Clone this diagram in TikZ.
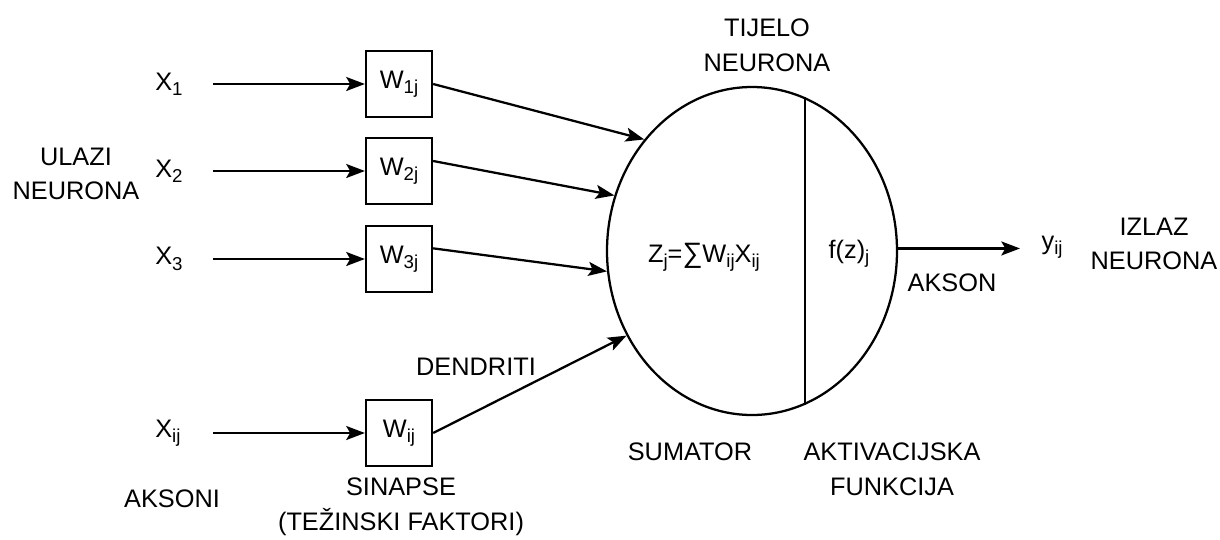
\documentclass[tikz,border=0pt]{standalone}
\usepackage{fontspec}
\setmainfont{Liberation Sans}
\usetikzlibrary{arrows.meta,shapes.geometric,positioning}
\newcommand{\donji}[1]{\raisebox{-4pt}{\fontsize{14}{14}\selectfont #1}}

\begin{document}
\begin{tikzpicture}[x=0.75pt,y=-0.75pt,
  every node/.style={font=\fontsize{19}{26}\selectfont},
  tezina/.style={draw,line width=1.7pt,minimum width=49.5pt,minimum height=49.5pt,inner sep=0pt},
  veza/.style={line width=1.7pt,-{Stealth[length=14pt,width=10.5pt,inset=3pt]}},
  natpis/.style={align=center,inner sep=0pt}]

\useasboundingbox (0,0) rectangle (1220,539);

%tijelo neurona
\node[draw,ellipse,line width=1.7pt,minimum width=217.5pt,minimum height=246pt,inner sep=0pt] (tijelo) at (752,251) {};
\draw[line width=1.7pt] (tijelo.71.6) -- (tijelo.-71.6);
\node[natpis] (zbroj) at (704,257) {Z\donji{j}={\fontsize{21}{21}\selectfont ∑}W\donji{ij}X\donji{ij}};
\node[natpis] (fz) at (849,254) {f(z)\donji{j}};

%ulazi
\node[natpis,anchor=west] (x1) at (155,84) {X\donji{1}};
\node[natpis,anchor=west] (x2) at (155,171) {X\donji{2}};
\node[natpis,anchor=west] (x3) at (155,259) {X\donji{3}};
\node[natpis,anchor=west] (xij) at (155,433) {X\donji{ij}};

%sinapse
\node[tezina] (w1) at (399,84) {W\donji{1j}};
\node[tezina] (w2) at (399,171) {W\donji{2j}};
\node[tezina] (w3) at (399,259) {W\donji{3j}};
\node[tezina] (wij) at (399,433) {W\donji{ij}};

%X->W
\draw[veza] ([xshift=43.5pt]x1.west) -- (w1.west);
\draw[veza] ([xshift=43.5pt]x2.west) -- (w2.west);
\draw[veza] ([xshift=43.5pt]x3.west) -- (w3.west);
\draw[veza] ([xshift=43.5pt]xij.west) -- (wij.west);

%W->tijelo
\draw[veza] (w1.east) -- (tijelo.134);
\draw[veza] ([yshift=7.5pt]w2.east) -- (tijelo.158.8);
\draw[veza] ([yshift=8pt]w3.east) -- (tijelo.188);
\draw[veza] (wij.east) -- (tijelo.214.7);

%izlaz
\node[natpis,anchor=west,inner xsep=16pt] (yij) at (1020,247) {y\donji{ij}};
\draw[veza] (tijelo.1.6) -- (tijelo.1.6 -| yij.west);

%natpisi
\node[natpis] (tijelotxt) at (767,45) {TIJELO\\NEURONA};
\node[natpis] (ulazi) at (76,174) {ULAZI\\NEURONA};
\node[natpis] (izlaz) at (1154,244) {IZLAZ\\NEURONA};
\node[natpis] (akson) at (952,283) {AKSON};
\node[natpis] (dendriti) at (476,367) {DENDRITI};
\node[natpis] (aksoni) at (172,499) {AKSONI};
\node[natpis] (sinapse) at (401,507) {SINAPSE\\(TEŽINSKI FAKTORI)};
\node[natpis] (sumator) at (690,452) {SUMATOR};
\node[natpis] (aktivacija) at (892,469) {AKTIVACIJSKA\\FUNKCIJA};

\end{tikzpicture}
\end{document}
